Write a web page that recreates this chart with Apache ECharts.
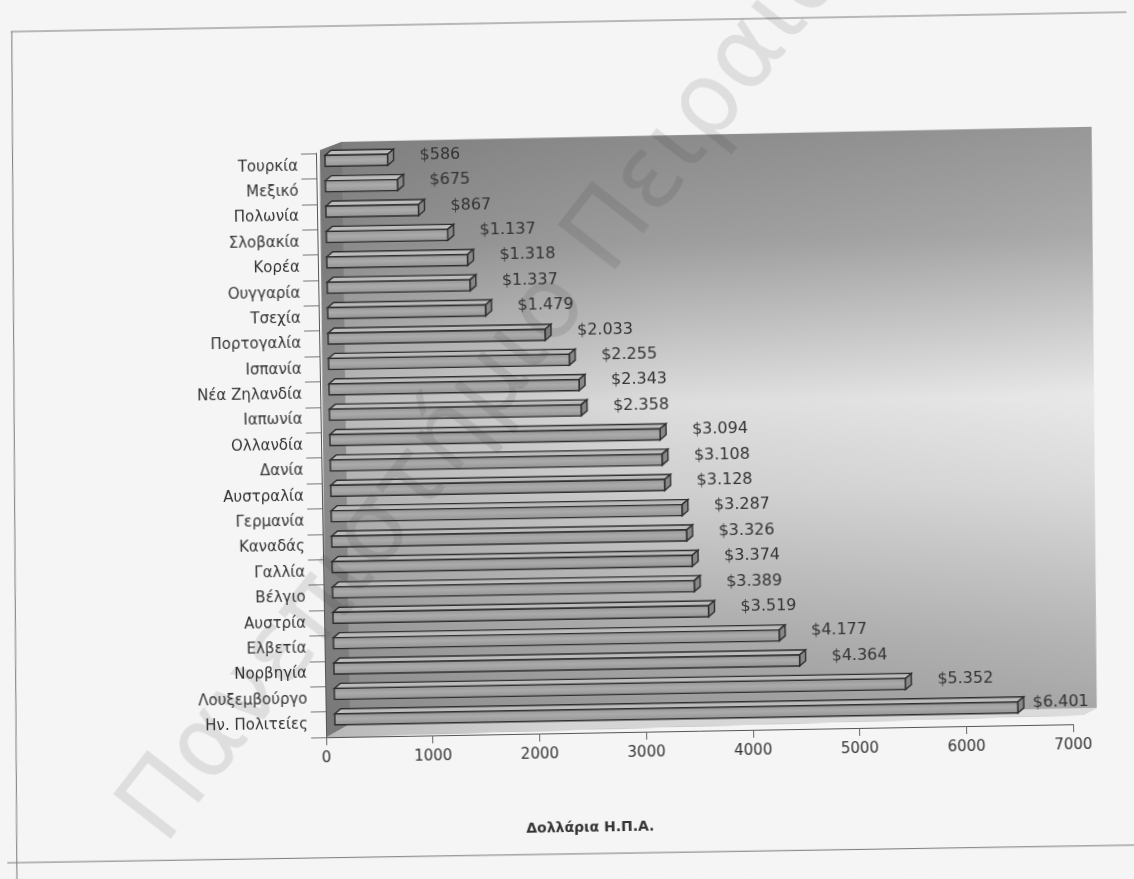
<!DOCTYPE html>
<html>
<head>
<meta charset="utf-8">
<script src="https://cdn.jsdelivr.net/npm/echarts@6/dist/echarts.min.js"></script>
<style>
  html, body { margin: 0; padding: 0; background: #f5f5f5; overflow: hidden; }
  #chart { width: 1134px; height: 879px; transform: rotate(-1deg); transform-origin: 567px 440px; }
</style>
</head>
<body>
<div id="chart"></div>
<script>
// Health spending per capita (US dollars), lowest at the top
const countries = [
  'Τουρκία', 'Μεξικό', 'Πολωνία', 'Σλοβακία', 'Κορέα', 'Ουγγαρία', 'Τσεχία',
  'Πορτογαλία', 'Ισπανία', 'Νέα Ζηλανδία', 'Ιαπωνία', 'Ολλανδία', 'Δανία',
  'Αυστραλία', 'Γερμανία', 'Καναδάς', 'Γαλλία', 'Βέλγιο', 'Αυστρία',
  'Ελβετία', 'Νορβηγία', 'Λουξεμβούργο', 'Ην. Πολιτείες'
];
const spending = [
  586, 675, 867, 1137, 1318, 1337, 1479,
  2033, 2255, 2343, 2358, 3094, 3108,
  3128, 3287, 3326, 3374, 3389, 3519,
  4177, 4364, 5352, 6401
];
const axisMin = 0;
const axisMax = 7000;
const axisStep = 1000;
const axisTitle = 'Δολλάρια Η.Π.Α.';
const watermark = 'Πανεπιστήμιο Πειραιά';

const FONT = '"DejaVu Sans", "Liberation Sans", sans-serif';
const GRID = { left: 321, right: 66, top: 149, bottom: 146 };
const W = 1134, H = 879;
const X0 = GRID.left, X1 = W - GRID.right, YT = GRID.top, YB = H - GRID.bottom;

// "$1.137" style with a dot as thousands separator
function money(v) {
  if (v < 1000) return '$' + v;
  return '$' + Math.floor(v / 1000) + '.' + String(v % 1000).padStart(3, '0');
}

// 3D-looking bar: front face, top face and end cap, plus value label
function renderBar(params, api) {
  const v = api.value(0);
  const idx = api.value(1);
  const start = api.coord([0, idx]);
  const end = api.coord([v, idx]);
  const shift = 9, h = 11, dx = 6, dy = 5;
  const cy = start[1] - 5;
  const xa = start[0] + shift, xb = end[0] + shift;
  const yt = cy - h / 2, yb = cy + h / 2;
  const edge = { stroke: '#2e2e2e', lineWidth: 1.4 };
  const maxLabelX = api.coord([axisMax, idx])[0] - 40;
  return {
    type: 'group',
    children: [
      { type: 'polygon', shape: { points: [[xa, yt], [xa + dx, yt - dy], [xb + dx, yt - dy], [xb, yt]] },
        style: Object.assign({ fill: '#bcbcbc' }, edge) },
      { type: 'polygon', shape: { points: [[xb, yt], [xb + dx, yt - dy], [xb + dx, yb - dy], [xb, yb]] },
        style: Object.assign({ fill: '#888888' }, edge) },
      { type: 'rect', shape: { x: xa, y: yt, width: xb - xa, height: h },
        style: Object.assign({
          fill: new echarts.graphic.LinearGradient(0, 0, 0, 1, [
            { offset: 0, color: '#949494' }, { offset: 0.45, color: '#ababab' }, { offset: 1, color: '#939393' }
          ])
        }, edge) },
      { type: 'text', style: {
          text: money(v), x: Math.min(xb + 32, maxLabelX), y: cy - 4,
          verticalAlign: 'middle', align: 'left',
          font: '16px ' + FONT, fill: '#333333' } }
    ]
  };
}

const chart = echarts.init(document.getElementById('chart'), null, { renderer: 'canvas' });

const wallGradient = new echarts.graphic.LinearGradient(0, 0, 0, 1, [
  { offset: 0, color: '#8c8c8c' },
  { offset: 0.18, color: '#a0a0a0' },
  { offset: 0.45, color: '#e6e6e6' },
  { offset: 0.6, color: '#d6d6d6' },
  { offset: 0.85, color: '#adadad' },
  { offset: 1, color: '#9a9a9a' }
]);
const wallShade = new echarts.graphic.LinearGradient(0, 0, 1, 0, [
  { offset: 0, color: 'rgba(90,90,90,0.32)' },
  { offset: 0.45, color: 'rgba(120,120,120,0.08)' },
  { offset: 1, color: 'rgba(255,255,255,0.10)' }
]);
const wallPts = [[X0 + 4, YT - 3], [X0 + 26, YT - 11], [X1 + 29, YT - 13], [X1 + 24, YB - 16], [X1 + 10, YB - 9], [X0, YB]];

chart.setOption({
  backgroundColor: '#f5f5f5',
  animation: false,
  grid: { left: GRID.left, right: GRID.right, top: GRID.top, bottom: GRID.bottom, containLabel: false },
  xAxis: {
    type: 'value', min: axisMin, max: axisMax, interval: axisStep,
    name: axisTitle, nameLocation: 'middle', nameGap: 88,
    nameTextStyle: { fontFamily: FONT, fontSize: 14, fontWeight: 'bold', color: '#333', padding: [0, 222, 0, 0] },
    axisLine: { show: true, lineStyle: { color: '#555', width: 1 } },
    axisTick: { show: true, length: 8, lineStyle: { color: '#666' } },
    axisLabel: { fontFamily: FONT, fontSize: 15, color: '#333', margin: 14, formatter: v => String(v) },
    splitLine: { show: false }
  },
  yAxis: {
    type: 'category', inverse: true, data: countries,
    axisLine: { show: true, lineStyle: { color: '#555', width: 1 } },
    axisTick: { show: true, length: 15, alignWithLabel: false, lineStyle: { color: '#777' } },
    axisLabel: { fontFamily: FONT, fontSize: 15, color: '#333', margin: 18 },
    splitLine: { show: false }
  },
  graphic: [
    // page frame
    { type: 'line', z: -20, silent: true, shape: { x1: 18, y1: 22, x2: 1160, y2: 22 }, style: { stroke: '#7a7a7a', lineWidth: 1 } },
    { type: 'line', z: -20, silent: true, shape: { x1: 19, y1: 22, x2: 9, y2: 900 }, style: { stroke: '#7a7a7a', lineWidth: 1 } },
    { type: 'line', z: -20, silent: true, shape: { x1: -10, y1: 853, x2: 1160, y2: 855 }, style: { stroke: '#7a7a7a', lineWidth: 1 } },
    // back wall
    { type: 'polygon', z: -10, silent: true, shape: { points: wallPts }, style: { fill: wallGradient } },
    { type: 'polygon', z: -9, silent: true, shape: { points: wallPts }, style: { fill: wallShade } },
    // side wall
    { type: 'polygon', z: -8, silent: true,
      shape: { points: [[X0 + 4, YT - 3], [X0 + 26, YT - 11], [X0 + 24, YB - 13], [X0, YB]] },
      style: { fill: 'rgba(110,110,110,0.55)' } },
    // floor
    { type: 'polygon', z: -8, silent: true,
      shape: { points: [[X0 + 24, YB - 13], [X1 + 24, YB - 16], [X1 + 10, YB - 9], [X0, YB]] },
      style: { fill: new echarts.graphic.LinearGradient(0, 0, 1, 0, [
        { offset: 0, color: '#b8b8b8' }, { offset: 0.3, color: '#d4d4d4' }, { offset: 1, color: '#dcdcdc' }
      ]) } },
    // faint diagonal watermark across the page
    { type: 'text', z: 100, silent: true, x: 488, y: 390, rotation: 51 * Math.PI / 180,
      style: { text: watermark, font: '100px ' + FONT, fill: 'rgba(40,40,40,0.11)',
               align: 'center', verticalAlign: 'middle' } }
  ],
  series: [{
    type: 'custom',
    renderItem: renderBar,
    encode: { x: 0, y: 1 },
    data: countries.map((c, i) => [spending[i], c]),
    z: 5
  }]
});
</script>
</body>
</html>
